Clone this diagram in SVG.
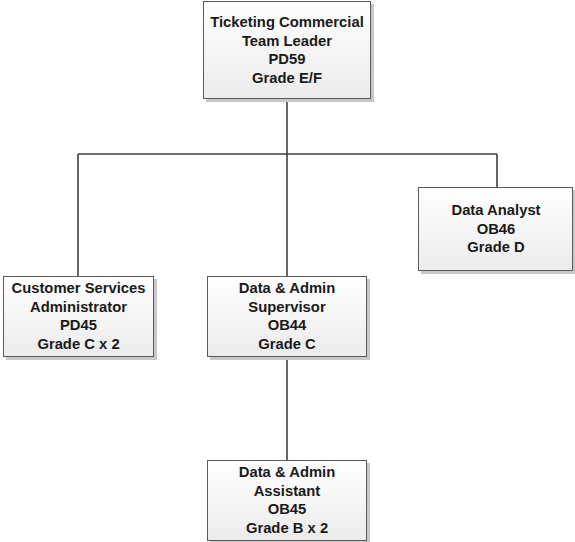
<svg xmlns="http://www.w3.org/2000/svg" width="575" height="542" viewBox="0 0 575 542">
<defs>
<linearGradient id="g" x1="0" y1="0" x2="0" y2="1">
<stop offset="0" stop-color="#ffffff"/>
<stop offset="1" stop-color="#ebebeb"/>
</linearGradient>
</defs>
<style>
.box{fill:url(#g);stroke:#5a5a5a;stroke-width:1}
.sh{fill:#c8c8c8}
.t{font-family:"Liberation Sans",Arial,sans-serif;font-weight:bold;font-size:14.8px;fill:#1a1a1a;text-anchor:middle}
.c{stroke:#404040;stroke-width:1.6;fill:none}
</style>
<g id="connectors">
<path class="c" d="M287,99 V276 M78,154 H497 M78,154 V276 M497,154 V187 M287,357 V460"/>
</g>
<g id="n-leader">
<rect class="sh" x="206" y="4" width="168" height="98"/>
<rect class="box" x="203.5" y="1.5" width="167" height="97"/>
<text class="t" x="287" y="27">Ticketing Commercial</text>
<text class="t" x="287" y="45.5">Team Leader</text>
<text class="t" x="287" y="64">PD59</text>
<text class="t" x="287" y="82.5">Grade E/F</text>
</g>
<g id="n-analyst">
<rect class="sh" x="421" y="190" width="154" height="84"/>
<rect class="box" x="418.5" y="187.5" width="154" height="83"/>
<text class="t" x="496" y="215">Data Analyst</text>
<text class="t" x="496" y="233.5">OB46</text>
<text class="t" x="496" y="252">Grade D</text>
</g>
<g id="n-customer">
<rect class="sh" x="6" y="279" width="151" height="81"/>
<rect class="box" x="3.5" y="276.5" width="150" height="80"/>
<text class="t" x="78.5" y="293">Customer Services</text>
<text class="t" x="78.5" y="311.5">Administrator</text>
<text class="t" x="78.5" y="330">PD45</text>
<text class="t" x="78.5" y="348.5">Grade C x 2</text>
</g>
<g id="n-supervisor">
<rect class="sh" x="210" y="279" width="160" height="81"/>
<rect class="box" x="207.5" y="276.5" width="159" height="80"/>
<text class="t" x="287" y="293">Data &amp; Admin</text>
<text class="t" x="287" y="311.5">Supervisor</text>
<text class="t" x="287" y="330">OB44</text>
<text class="t" x="287" y="348.5">Grade C</text>
</g>
<g id="n-assistant">
<rect class="sh" x="210" y="463" width="160" height="81"/>
<rect class="box" x="207.5" y="460.5" width="159" height="80"/>
<text class="t" x="287" y="477">Data &amp; Admin</text>
<text class="t" x="287" y="495.5">Assistant</text>
<text class="t" x="287" y="514">OB45</text>
<text class="t" x="287" y="532.5">Grade B x 2</text>
</g>
</svg>
